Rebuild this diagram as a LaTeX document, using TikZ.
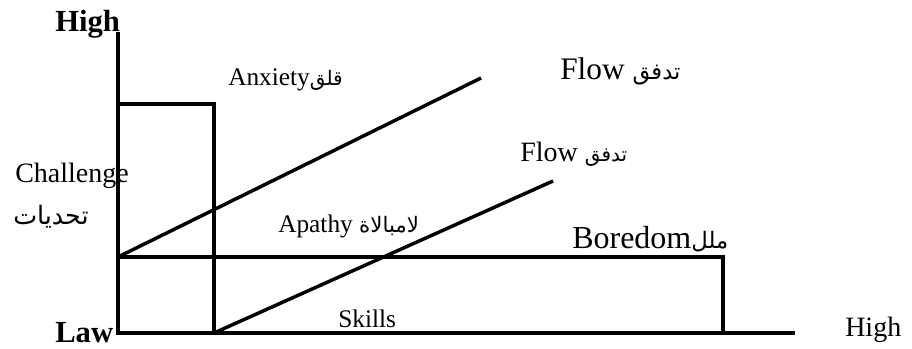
\documentclass[tikz,border=0pt]{standalone}
\usepackage{fontspec}
\setmainfont{Liberation Serif}
\newfontfamily\arabicfont[Script=Arabic]{DejaVu Sans}
\TeXXeTstate=1
\newcommand{\artext}[2][14]{{\fontsize{#1}{#1}\arabicfont\beginR #2\endR}}

\begin{document}
\begin{tikzpicture}[x=0.75pt, y=0.75pt,
        axis/.style={line width=3pt},
        zone/.style={line width=2.6pt},
        txt/.style={anchor=base west, inner sep=0pt, font=\fontsize{19}{22}\selectfont},
        bold/.style={txt, font=\fontsize{23}{26}\selectfont\bfseries}]
    \useasboundingbox (0,0) rectangle (912,349);

    % corners
    \coordinate (O) at (118,16);
    \coordinate (ytop) at (118,317);
    \coordinate (xend) at (795,16);
    \coordinate (anxA) at (118,245);
    \coordinate (anxB) at (214,245);
    \coordinate (anxC) at (214,16);
    \coordinate (borA) at (118,92);
    \coordinate (borB) at (723,92);
    \coordinate (borC) at (723,16);
    \coordinate (flowA) at (481,271);
    \coordinate (flowB) at (553,168);

    % axes
    \draw[axis] (ytop) -- (O) -- (xend);

    % anxiety and boredom zones
    \draw[zone] (anxA) -- (anxB) -- (anxC);
    \draw[line width=2.3pt] (borA) -- (borB) -- (borC);

    % flow channel
    \draw[zone] (borA) -- (flowA);
    \draw[zone] (anxC) -- (flowB);

    % labels
    \node[bold] (high) at (55,317) {High};
    \node[bold] (law) at (55,6.5) {Law};
    \node[txt] (anxiety) at (228,263) {Anxiety\artext[15]{قلق}};
    \node[txt, font=\fontsize{23.5}{26}\selectfont] (flowup) at (560,269) {Flow \artext[17]{تدفق}};
    \node[txt, font=\fontsize{21}{24}\selectfont] (flowlow) at (520,187) {Flow \artext[15]{تدفق}};
    \node[txt, font=\fontsize{21}{24}\selectfont] (challenge) at (15,166) {Challenge};
    \node[txt] (tahadiyat) at (13,124) {\artext[19]{تحديات}};
    \node[txt] (apathy) at (278,116) {Apathy \artext[16]{لامبالاة}};
    \node[txt, font=\fontsize{24}{27}\selectfont] (boredom) at (572,100) {Boredom\artext[17]{ملل}};
    \node[txt] (skills) at (338,21) {Skills};
    \node[txt, font=\fontsize{21}{24}\selectfont] (highx) at (845,12) {High};
\end{tikzpicture}
\end{document}
